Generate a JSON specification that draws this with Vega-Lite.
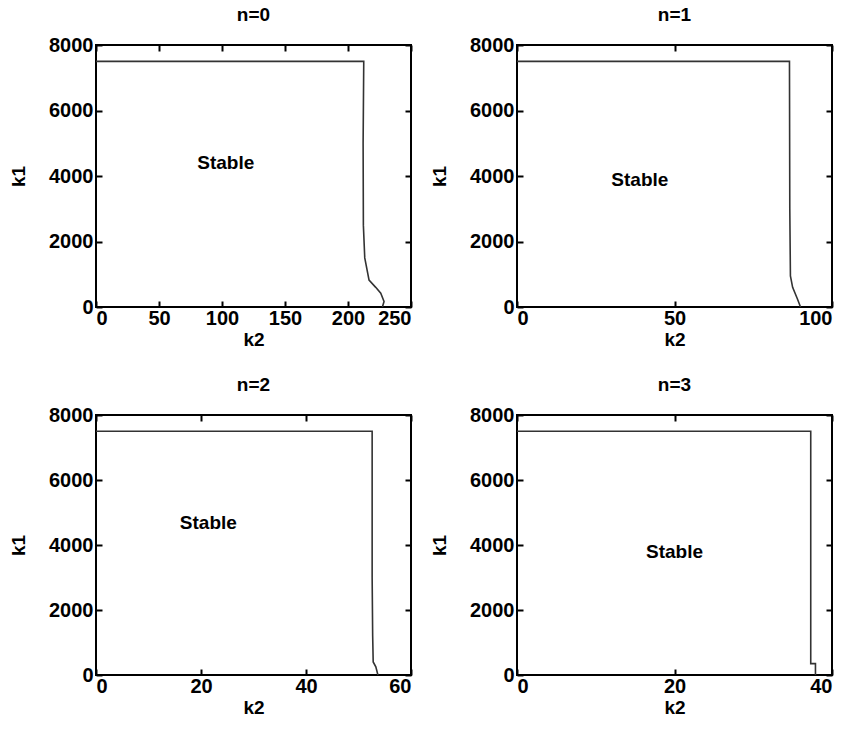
{
  "$schema": "https://vega.github.io/schema/vega-lite/v6.json",
  "padding": {"left": 8, "top": 5, "right": 2, "bottom": 2},
  "config": {
    "font": "Liberation Sans",
    "view": {"stroke": "black", "strokeWidth": 2},
    "axis": {
      "labelFont": "Liberation Sans", "labelFontSize": 20, "labelFontWeight": "bold", "labelColor": "black",
      "titleFont": "Liberation Sans", "titleFontSize": 19, "titleFontWeight": "bold", "titleColor": "black",
      "tickSize": -6, "tickColor": "black", "tickWidth": 2, "domain": false, "grid": false, "labelPadding": 9, "format": "d"
    },
    "axisX": {"labelPadding": 7, "titlePadding": 2},
    "axisY": {"titlePadding": 20},
    "title": {"font": "Liberation Sans", "fontSize": 19, "fontWeight": "bold", "color": "black", "offset": 10}
  },
  "spacing": 25,
  "vconcat": [
    {"hconcat": [
      {
        "title": "n=0", "width": 315, "height": 262,
        "resolve": {"axis": {"x": "independent", "y": "independent"}},
        "layer": [
          {
            "data": {"values": [
              {"i": 0, "k2": 0, "k1": 7500}, {"i": 1, "k2": 212.5, "k1": 7500}, {"i": 2, "k2": 212, "k1": 5000},
              {"i": 3, "k2": 212.2, "k1": 2500}, {"i": 4, "k2": 213.3, "k1": 1500}, {"i": 5, "k2": 216.7, "k1": 820},
              {"i": 6, "k2": 222, "k1": 600}, {"i": 7, "k2": 226, "k1": 420}, {"i": 8, "k2": 228.6, "k1": 170},
              {"i": 9, "k2": 227.3, "k1": 0}
            ]},
            "mark": {"type": "line", "color": "#333", "strokeWidth": 1.6},
            "encoding": {
              "x": {"field": "k2", "type": "quantitative", "scale": {"domain": [0, 250], "nice": false}, "axis": {"title": "k2", "values": [0, 50, 100, 150, 200, 250]}},
              "y": {"field": "k1", "type": "quantitative", "scale": {"domain": [0, 8000], "nice": false}, "axis": {"title": "k1", "values": [0, 2000, 4000, 6000, 8000]}},
              "order": {"field": "i"}
            }
          },
          {
            "data": {"values": [{"k2": 103, "k1": 4390, "label": "Stable"}]},
            "mark": {"type": "text", "fontSize": 19, "fontWeight": "bold", "font": "Liberation Sans", "color": "black"},
            "encoding": {
              "x": {"field": "k2", "type": "quantitative", "axis": {"orient": "top", "labels": false, "title": null, "values": [0, 50, 100, 150, 200, 250]}},
              "y": {"field": "k1", "type": "quantitative", "axis": {"orient": "right", "labels": false, "title": null, "values": [0, 2000, 4000, 6000, 8000]}},
              "text": {"field": "label"}
            }
          }
        ]
      },
      {
        "title": "n=1", "width": 315, "height": 262,
        "resolve": {"axis": {"x": "independent", "y": "independent"}},
        "layer": [
          {
            "data": {"values": [
              {"i": 0, "k2": 0, "k1": 7500}, {"i": 1, "k2": 86.5, "k1": 7500}, {"i": 2, "k2": 86.6, "k1": 3000},
              {"i": 3, "k2": 86.8, "k1": 950}, {"i": 4, "k2": 87.5, "k1": 600}, {"i": 5, "k2": 89, "k1": 250},
              {"i": 6, "k2": 90, "k1": 0}
            ]},
            "mark": {"type": "line", "color": "#333", "strokeWidth": 1.6},
            "encoding": {
              "x": {"field": "k2", "type": "quantitative", "scale": {"domain": [0, 100], "nice": false}, "axis": {"title": "k2", "values": [0, 50, 100]}},
              "y": {"field": "k1", "type": "quantitative", "scale": {"domain": [0, 8000], "nice": false}, "axis": {"title": "k1", "values": [0, 2000, 4000, 6000, 8000]}},
              "order": {"field": "i"}
            }
          },
          {
            "data": {"values": [{"k2": 39, "k1": 3870, "label": "Stable"}]},
            "mark": {"type": "text", "fontSize": 19, "fontWeight": "bold", "font": "Liberation Sans", "color": "black"},
            "encoding": {
              "x": {"field": "k2", "type": "quantitative", "axis": {"orient": "top", "labels": false, "title": null, "values": [0, 50, 100]}},
              "y": {"field": "k1", "type": "quantitative", "axis": {"orient": "right", "labels": false, "title": null, "values": [0, 2000, 4000, 6000, 8000]}},
              "text": {"field": "label"}
            }
          }
        ]
      }
    ], "spacing": 16},
    {"hconcat": [
      {
        "title": "n=2", "width": 315, "height": 260,
        "resolve": {"axis": {"x": "independent", "y": "independent"}},
        "layer": [
          {
            "data": {"values": [
              {"i": 0, "k2": 0, "k1": 7500}, {"i": 1, "k2": 52.6, "k1": 7500}, {"i": 2, "k2": 52.6, "k1": 3000},
              {"i": 3, "k2": 52.7, "k1": 1200}, {"i": 4, "k2": 52.8, "k1": 400}, {"i": 5, "k2": 53.3, "k1": 250},
              {"i": 6, "k2": 53.7, "k1": 0}
            ]},
            "mark": {"type": "line", "color": "#333", "strokeWidth": 1.6},
            "encoding": {
              "x": {"field": "k2", "type": "quantitative", "scale": {"domain": [0, 60], "nice": false}, "axis": {"title": "k2", "values": [0, 20, 40, 60]}},
              "y": {"field": "k1", "type": "quantitative", "scale": {"domain": [0, 8000], "nice": false}, "axis": {"title": "k1", "values": [0, 2000, 4000, 6000, 8000]}},
              "order": {"field": "i"}
            }
          },
          {
            "data": {"values": [{"k2": 21.4, "k1": 4670, "label": "Stable"}]},
            "mark": {"type": "text", "fontSize": 19, "fontWeight": "bold", "font": "Liberation Sans", "color": "black"},
            "encoding": {
              "x": {"field": "k2", "type": "quantitative", "axis": {"orient": "top", "labels": false, "title": null, "values": [0, 20, 40, 60]}},
              "y": {"field": "k1", "type": "quantitative", "axis": {"orient": "right", "labels": false, "title": null, "values": [0, 2000, 4000, 6000, 8000]}},
              "text": {"field": "label"}
            }
          }
        ]
      },
      {
        "title": "n=3", "width": 315, "height": 260,
        "resolve": {"axis": {"x": "independent", "y": "independent"}},
        "layer": [
          {
            "data": {"values": [
              {"i": 0, "k2": 0, "k1": 7500}, {"i": 1, "k2": 37.3, "k1": 7500}, {"i": 2, "k2": 37.3, "k1": 350},
              {"i": 3, "k2": 37.9, "k1": 350}, {"i": 4, "k2": 37.9, "k1": 0}
            ]},
            "mark": {"type": "line", "color": "#333", "strokeWidth": 1.6},
            "encoding": {
              "x": {"field": "k2", "type": "quantitative", "scale": {"domain": [0, 40], "nice": false}, "axis": {"title": "k2", "values": [0, 20, 40]}},
              "y": {"field": "k1", "type": "quantitative", "scale": {"domain": [0, 8000], "nice": false}, "axis": {"title": "k1", "values": [0, 2000, 4000, 6000, 8000]}},
              "order": {"field": "i"}
            }
          },
          {
            "data": {"values": [{"k2": 20, "k1": 3800, "label": "Stable"}]},
            "mark": {"type": "text", "fontSize": 19, "fontWeight": "bold", "font": "Liberation Sans", "color": "black"},
            "encoding": {
              "x": {"field": "k2", "type": "quantitative", "axis": {"orient": "top", "labels": false, "title": null, "values": [0, 20, 40]}},
              "y": {"field": "k1", "type": "quantitative", "axis": {"orient": "right", "labels": false, "title": null, "values": [0, 2000, 4000, 6000, 8000]}},
              "text": {"field": "label"}
            }
          }
        ]
      }
    ], "spacing": 16}
  ]
}
